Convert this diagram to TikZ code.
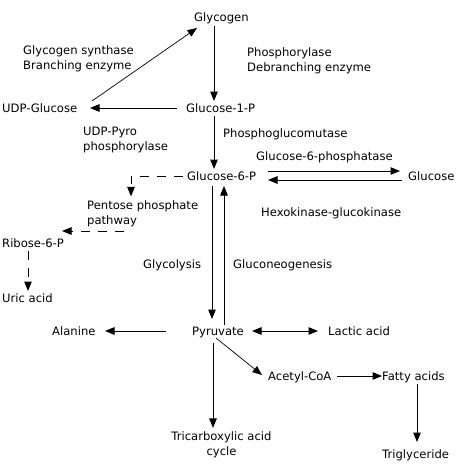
\documentclass[tikz,border=0pt]{standalone}
\usepackage{fontspec}
\setmainfont{DejaVu Sans}
\usetikzlibrary{arrows.meta}
\begin{document}
\begin{tikzpicture}[x=1pt,y=-1pt,
  nd/.style={font=\fontsize{11.6}{15.5}\selectfont, inner sep=0pt, text height=8.8pt, text depth=2.7pt, anchor=west},
  lbl/.style={font=\fontsize{11.6}{15.5}\selectfont, inner sep=0pt, align=left, anchor=north west},
  arr/.style={-{Triangle[length=9.5pt,width=7.5pt]}, line width=1pt},
  darr/.style={{Triangle[length=9.5pt,width=7.5pt]}-{Triangle[length=9.5pt,width=7.5pt]}, line width=1pt},
  dsh/.style={arr, dash pattern=on 9pt off 8pt}]
\useasboundingbox (0,0) rectangle (459,471);
\fill[white] (0,0) rectangle (459,471);
% metabolites
\node[nd] (glycogen) at (194,18) {Glycogen};
\node[nd] (g1p) at (186,109) {Glucose-1-P};
\node[nd] (udp) at (2,109) {UDP-Glucose};
\node[nd] (g6p) at (187,177) {Glucose-6-P};
\node[nd] (glucose) at (408,177) {Glucose};
\node[lbl] (ppp) at (87,200.4) {Pentose phosphate\\pathway};
\node[nd] (ribose) at (2,244) {Ribose-6-P};
\node[nd] (uric) at (2,299) {Uric acid};
\node[nd] (pyruvate) at (192,332) {Pyruvate};
\node[nd] (alanine) at (52,332) {Alanine};
\node[nd] (lactic) at (328,332) {Lactic acid};
\node[nd] (acetyl) at (268,377) {Acetyl-CoA};
\node[nd] (fatty) at (382,377) {Fatty acids};
\node[nd] (trig) at (382,455) {Triglyceride};
\node[lbl, anchor=north, align=center] (tca) at (221.5,431.4) {Tricarboxylic acid\\cycle};
% enzyme labels
\node[lbl] (gs) at (23,45.4) {Glycogen synthase\\Branching enzyme};
\node[lbl] (ph) at (247,47.3) {Phosphorylase\\Debranching enzyme};
\node[lbl] (upp) at (83,126.4) {UDP-Pyro\\phosphorylase};
\node[nd] (pgm) at (223,134) {Phosphoglucomutase};
\node[nd] (g6pase) at (256,157) {Glucose-6-phosphatase};
\node[nd] (hk) at (261,213) {Hexokinase-glucokinase};
\node[nd] (glyc) at (143,265) {Glycolysis};
\node[nd] (gng) at (233,265) {Gluconeogenesis};
% connectors
\draw[arr] ([shift={(20,8)}]glycogen.west) -- ([shift={(28,-8)}]g1p.west);
\draw[arr] ([shift={(-9,-1)}]g1p.west) -- ([shift={(88,-1)}]udp.west);
\draw[arr, line width=0.7pt] ([shift={(90,-8)}]udp.west) -- ([shift={(3,10)}]glycogen.west);
\draw[arr] ([shift={(28,7)}]g1p.west) -- ([shift={(27,-8)}]g6p.west);
\draw[arr] ([shift={(81,-6)}]g6p.west) -- ([shift={(-8,-6)}]glucose.west);
\draw[arr] ([shift={(-6,3)}]glucose.west) -- ([shift={(81,3)}]g6p.west);
\draw[dsh] ([shift={(-4,-1)}]g6p.west) -| ([shift={(44,-4)}]ppp.north west);
\draw[dsh] ([shift={(37,30.6)}]ppp.north west) -- ([shift={(60,-13)}]ribose.west);
\draw[dsh] ([shift={(26,7)}]ribose.west) -- ([shift={(26,-8)}]uric.west);
\draw[arr] ([shift={(25,9)}]g6p.west) -- ([shift={(20,-13)}]pyruvate.west);
\draw[arr] ([shift={(32,-7)}]pyruvate.west) -- ([shift={(37,9)}]g6p.west);
\draw[arr] ([shift={(-26,-1)}]pyruvate.west) -- ([shift={(53,-1)}]alanine.west);
\draw[darr] ([shift={(60,-1)}]pyruvate.west) -- ([shift={(-10,-1)}]lactic.west);
\draw[arr, line width=0.7pt] ([shift={(24,6)}]pyruvate.west) -- ([shift={(-6,-2)}]acetyl.west);
\draw[arr] ([shift={(69,-1)}]acetyl.west) -- ([shift={(0,-1)}]fatty.west);
\draw[arr] ([shift={(35,7)}]fatty.west) -- ([shift={(35,-13)}]trig.west);
\draw[arr] ([shift={(21,11)}]pyruvate.west) -- ([shift={(-8.5,-3.5)}]tca.north);
\end{tikzpicture}
\end{document}
